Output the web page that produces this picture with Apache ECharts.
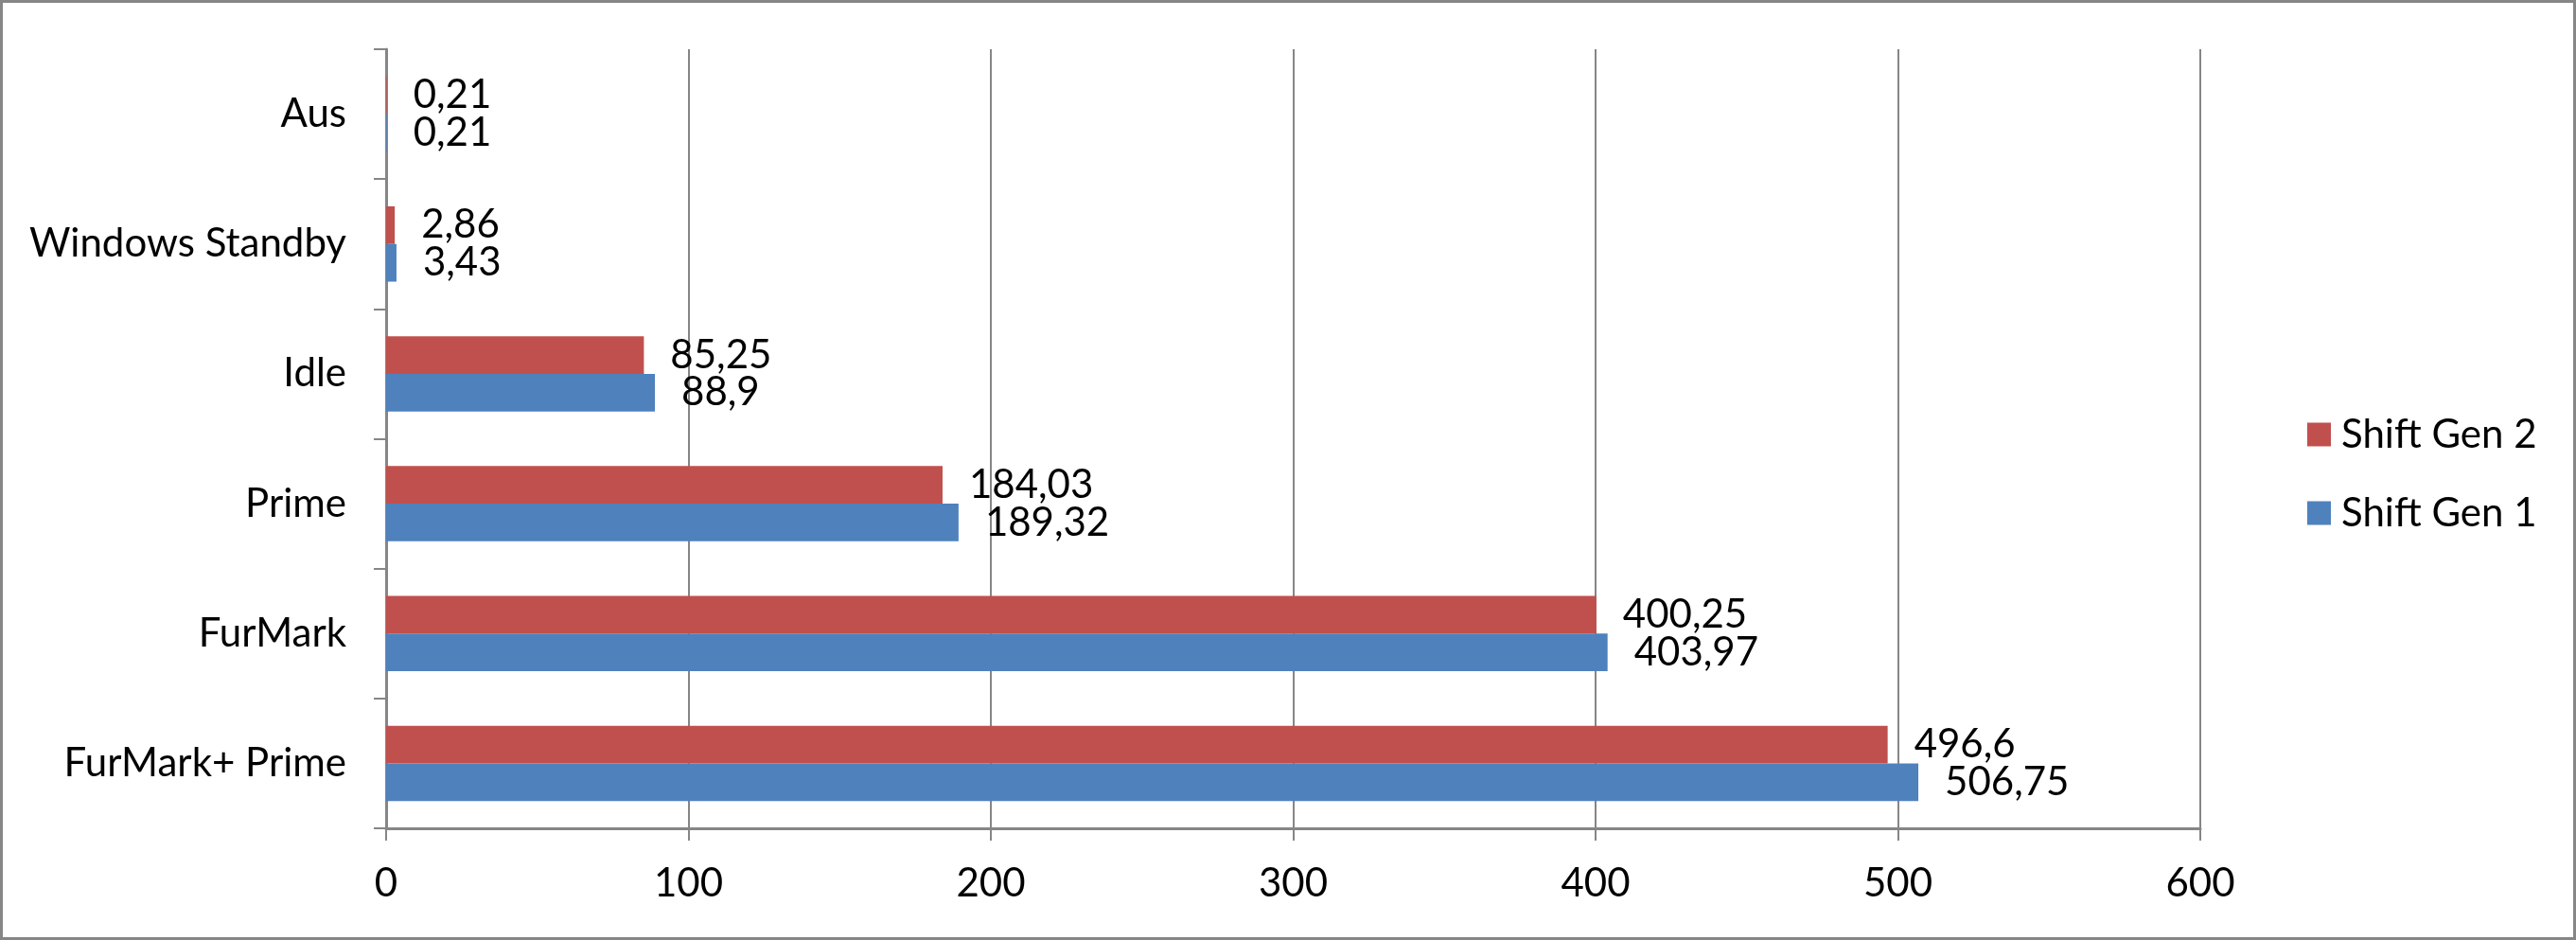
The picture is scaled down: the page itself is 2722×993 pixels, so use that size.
<!DOCTYPE html>
<html>
<head>
<meta charset="utf-8">
<script src="https://cdn.jsdelivr.net/npm/echarts@6/dist/echarts.min.js"></script>
<style>
html,body{margin:0;padding:0;background:#fff;}
#chart{width:2722px;height:993px;}
</style>
</head>
<body>
<div id="chart"></div>
<script>
const categories = ['Aus', 'Windows Standby', 'Idle', 'Prime', 'FurMark', 'FurMark+ Prime'];
const shiftGen2 = [0.21, 2.86, 85.25, 184.03, 400.25, 496.6];
const shiftGen1 = [0.21, 3.43, 88.9, 189.32, 403.97, 506.75];
const seriesNames = ['Shift Gen 2', 'Shift Gen 1'];
const xTicks = { min: 0, max: 600, interval: 100 };

const FONT = 'Lato';
const FS = 42;
const GRAY = '#868686';

const chart = echarts.init(document.getElementById('chart'), null, { renderer: 'canvas' });
const labelFmt = p => String(p.value).replace('.', ',');

chart.setOption({
  backgroundColor: '#ffffff',
  animation: false,
  textStyle: { fontFamily: FONT, color: '#000' },
  graphic: [{
    type: 'rect', silent: true,
    shape: { x: 1.5, y: 1.5, width: 2719, height: 990 },
    style: { fill: 'none', stroke: GRAY, lineWidth: 3 }
  }],
  grid: { left: 408, right: 397, top: 52, bottom: 118, containLabel: false },
  legend: {
    orient: 'vertical',
    left: 2433, top: 433,
    data: seriesNames,
    icon: 'rect',
    itemWidth: 25, itemHeight: 25,
    itemGap: 41,
    textStyle: { fontFamily: FONT, fontSize: FS, color: '#000', lineHeight: 42, padding: [0, 0, 0, 6] }
  },
  xAxis: {
    type: 'value',
    min: xTicks.min, max: xTicks.max, interval: xTicks.interval,
    axisLine: { show: true, lineStyle: { color: GRAY, width: 3 } },
    axisTick: { show: true, length: 13, lineStyle: { color: GRAY, width: 2 } },
    axisLabel: { fontFamily: FONT, fontSize: FS, color: '#000', margin: 37 },
    splitLine: { show: true, lineStyle: { color: GRAY, width: 2 } }
  },
  yAxis: {
    type: 'category',
    data: categories,
    inverse: true,
    axisLine: { show: true, lineStyle: { color: GRAY, width: 3 } },
    axisTick: { show: true, length: 13, lineStyle: { color: GRAY, width: 2 } },
    axisLabel: { fontFamily: FONT, fontSize: FS, color: '#000', margin: 42 },
    splitLine: { show: false }
  },
  series: [
    {
      name: seriesNames[0], type: 'bar', data: shiftGen2,
      barGap: '0%', barCategoryGap: '42%',
      itemStyle: { color: '#C0504D' },
      label: { show: true, position: 'right', distance: 28, formatter: labelFmt, fontFamily: FONT, fontSize: FS, color: '#000' }
    },
    {
      name: seriesNames[1], type: 'bar', data: shiftGen1,
      barGap: '0%', barCategoryGap: '42%',
      itemStyle: { color: '#4F81BD' },
      label: { show: true, position: 'right', distance: 28, formatter: labelFmt, fontFamily: FONT, fontSize: FS, color: '#000' }
    }
  ]
});
</script>
</body>
</html>
